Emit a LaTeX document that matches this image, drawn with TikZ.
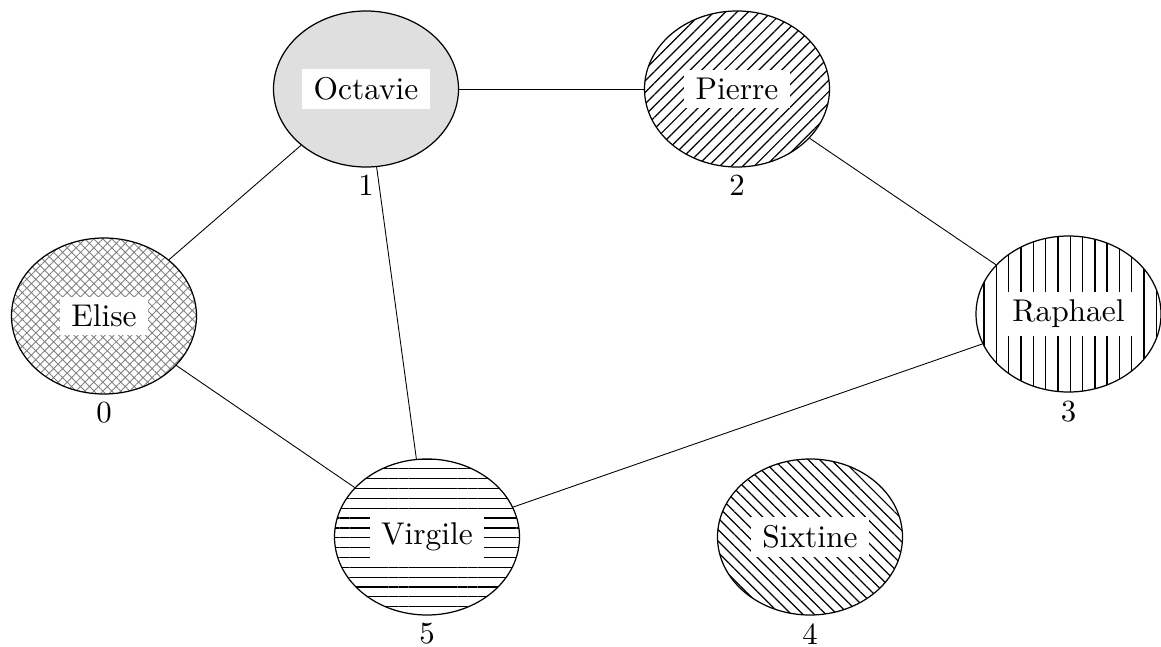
\documentclass[tikz,border=0pt]{standalone}
\usetikzlibrary{positioning,patterns.meta,shapes.geometric}

\begin{document}
\begin{tikzpicture}[
  person/.style={ellipse,draw,line width=0.7pt,minimum width=3.7cm,minimum height=3.12cm},
  tag/.style={fill=white,inner xsep=3.6pt,inner ysep=2.6pt,scale=1.79},
  num/.style={inner xsep=2.3pt,inner ysep=0.3pt,scale=1.75},
  link/.style={line width=0.5pt}]
\useasboundingbox (0,0) rectangle (23.22,12.92);

\node[person,pattern={Hatch[angle=45,distance=3.6pt,line width=0.5pt]},pattern color=gray] 
  (elise) at (2.08,6.60) {};
\node[person,fill=gray!25] (octavie) at (7.32,11.14) {};
\node[person,pattern={Lines[angle=45,distance=4.6pt,line width=0.7pt]}] 
  (pierre) at (14.74,11.14) {};
\node[person,pattern={Lines[angle=90,distance=7pt,line width=0.8pt]}] 
  (raphael) at (21.37,6.64) {};
\node[person,pattern={Lines[angle=0,distance=5.6pt,line width=0.7pt]}] 
  (virgile) at (8.54,2.18) {};
\node[person,pattern={Lines[angle=-45,distance=4.6pt,line width=0.7pt]}] 
  (sixtine) at (16.20,2.18) {};

\node[tag] (t0) at (elise) {Elise};
\node[tag] (t1) at (octavie) {Octavie};
\node[tag] (t2) at (pierre) {Pierre};
\node[tag] (t3) at (raphael) {Raphael};
\node[tag] (t5) at (virgile) {Virgile};
\node[tag] (t4) at (sixtine) {Sixtine};

\node[num,below=3.6pt of elise] (n0) {0};
\node[num,below=3.6pt of octavie] (n1) {1};
\node[num,below=3.6pt of pierre] (n2) {2};
\node[num,below=3.6pt of raphael] (n3) {3};
\node[num,below=3.6pt of virgile] (n5) {5};
\node[num,below=3.6pt of sixtine] (n4) {4};

\draw[link] (elise) -- (octavie);
\draw[link] (octavie) -- (pierre);
\draw[link] (pierre) -- (raphael);
\draw[link] (octavie) -- (virgile);
\draw[link] (elise) -- (virgile);
\draw[link] (raphael) -- (virgile);
\end{tikzpicture}
\end{document}
